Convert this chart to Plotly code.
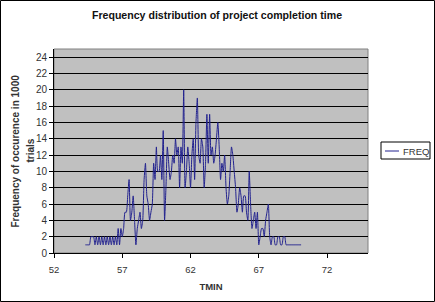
import plotly.graph_objects as go

# TMIN values (step 0.1) and observed frequencies
tmin_start = 54.3
freq = [
    1, 1, 1, 1, 2, 2,            # 54.3 - 54.8
    2, 1, 2, 1, 2, 1, 2, 1, 2, 1,  # 54.9 - 55.8
    2, 1, 2, 1, 2, 1, 2, 1, 3, 1,  # 55.9 - 56.8
    3, 2, 3, 5, 5, 7, 9, 4, 5, 7,  # 56.9 - 57.8
    4, 1, 3, 4, 5, 3, 4, 9, 11, 7, # 57.9 - 58.8
    6, 4, 5, 6, 11, 9, 13, 10, 10, 12,  # 58.9 - 59.8
    9, 15, 4, 8, 13, 11, 9, 10, 12, 11,  # 59.9 - 60.8
    14, 12, 13, 8, 13, 11, 20, 8, 10, 13,  # 60.9 - 61.8
    11, 8, 12, 14, 9, 16, 19, 12, 11, 14,  # 61.9 - 62.8
    13, 8, 11, 17, 11, 17, 12, 13, 11, 12,  # 62.9 - 63.8
    14, 16, 13, 9, 11, 10, 12, 8, 6, 7,  # 63.9 - 64.8
    10, 13, 12, 10, 8, 5, 6, 8, 7, 5,  # 64.9 - 65.8
    7, 7, 5, 4, 10, 6, 3, 4, 5, 3,  # 65.9 - 66.8
    5, 1, 2, 3, 3, 2, 4, 5, 6, 2,  # 66.9 - 67.8
    1, 2, 2, 1, 1, 2, 2, 1, 1, 2,  # 67.9 - 68.8
    2, 1, 1, 1, 1, 1, 1, 1, 1, 1,  # 68.9 - 69.8
    1, 1, 1,                       # 69.9 - 70.1
]
tmin = [round(tmin_start + 0.1 * i, 1) for i in range(len(freq))]

x_ticks = [52, 57, 62, 67, 72]
y_ticks = list(range(0, 25, 2))

title_text = "Frequency distribution of project completion time"
y_title_1 = "Frequency of occurence in 1000"
y_title_2 = "trials"
x_title = "TMIN"
series_name = "FREQ"

W, H = 435, 302
ML, MR, MT, MB = 54, 67, 49, 49
PW, PH = W - ML - MR, H - MT - MB

def px_x(p):
    return (p - ML) / PW

def px_y(p):
    return (H - MB - p) / PH

line_color = "#22228f"

fig = go.Figure()
fig.add_trace(go.Scatter(
    x=tmin, y=freq, mode="lines", name=series_name,
    line=dict(color=line_color, width=1, shape="spline", smoothing=0.5),
    showlegend=False,
))

fig.update_layout(
    width=W, height=H,
    margin=dict(l=ML, r=MR, t=MT, b=MB),
    paper_bgcolor="white",
    plot_bgcolor="#C0C0C0",
    font=dict(family="Liberation Sans, Arial, sans-serif", size=10, color="#333"),
    title=dict(
        text="<b>" + title_text + "</b>",
        x=px_x(217), xref="paper", xanchor="center",
        y=1 - 15 / H, yanchor="middle",
        font=dict(family="Liberation Sans, Arial, sans-serif", size=10.6, color="#111"),
    ),
    xaxis=dict(
        range=[52, 75], tickvals=x_ticks, ticks="outside", ticklen=4,
        tickcolor="black", showgrid=False, zeroline=False,
        showline=True, linecolor="black", linewidth=1,
        tickfont=dict(size=9.5, color="#333"),
        ticklabelstandoff=4,
        title=dict(text="<b>" + x_title + "</b>", font=dict(size=9.5, color="#333"), standoff=8),
    ),
    yaxis=dict(
        range=[0, 25], tickvals=y_ticks, ticks="outside", ticklen=4,
        tickcolor="black", showgrid=True, gridcolor="black", gridwidth=1,
        zeroline=False, showline=True, linecolor="black", linewidth=1,
        tickfont=dict(size=10, color="#333"),
    ),
    shapes=[
        # plot-area outline
        dict(type="rect", xref="paper", yref="paper", x0=0, x1=1, y0=0, y1=1,
             line=dict(color="#808080", width=1), layer="below"),
        # outer chart border
        dict(type="rect", xref="paper", yref="paper",
             x0=px_x(0.5), x1=px_x(W - 0.5), y0=px_y(H - 0.5), y1=px_y(0.5),
             line=dict(color="black", width=1)),
        # legend box
        dict(type="rect", xref="paper", yref="paper",
             x0=px_x(381), x1=px_x(430), y0=px_y(159), y1=px_y(142),
             line=dict(color="black", width=1), fillcolor="white"),
        # legend line sample
        dict(type="line", xref="paper", yref="paper",
             x0=px_x(385), x1=px_x(399), y0=px_y(151), y1=px_y(151),
             line=dict(color=line_color, width=1)),
    ],
    annotations=[
        dict(text="<b>" + y_title_1 + "</b>", textangle=-90, xref="paper", yref="paper",
             x=px_x(14.5), y=px_y(151), xanchor="center", yanchor="middle",
             showarrow=False, font=dict(size=10, color="#333")),
        dict(text="<b>" + y_title_2 + "</b>", textangle=-90, xref="paper", yref="paper",
             x=px_x(29.5), y=px_y(151), xanchor="center", yanchor="middle",
             showarrow=False, font=dict(size=10, color="#333")),
        dict(text=series_name, xref="paper", yref="paper",
             x=px_x(401), y=px_y(151), xanchor="left", yanchor="middle",
             showarrow=False, font=dict(size=9.5, color="#333")),
    ],
)

fig.write_html("out.html")
